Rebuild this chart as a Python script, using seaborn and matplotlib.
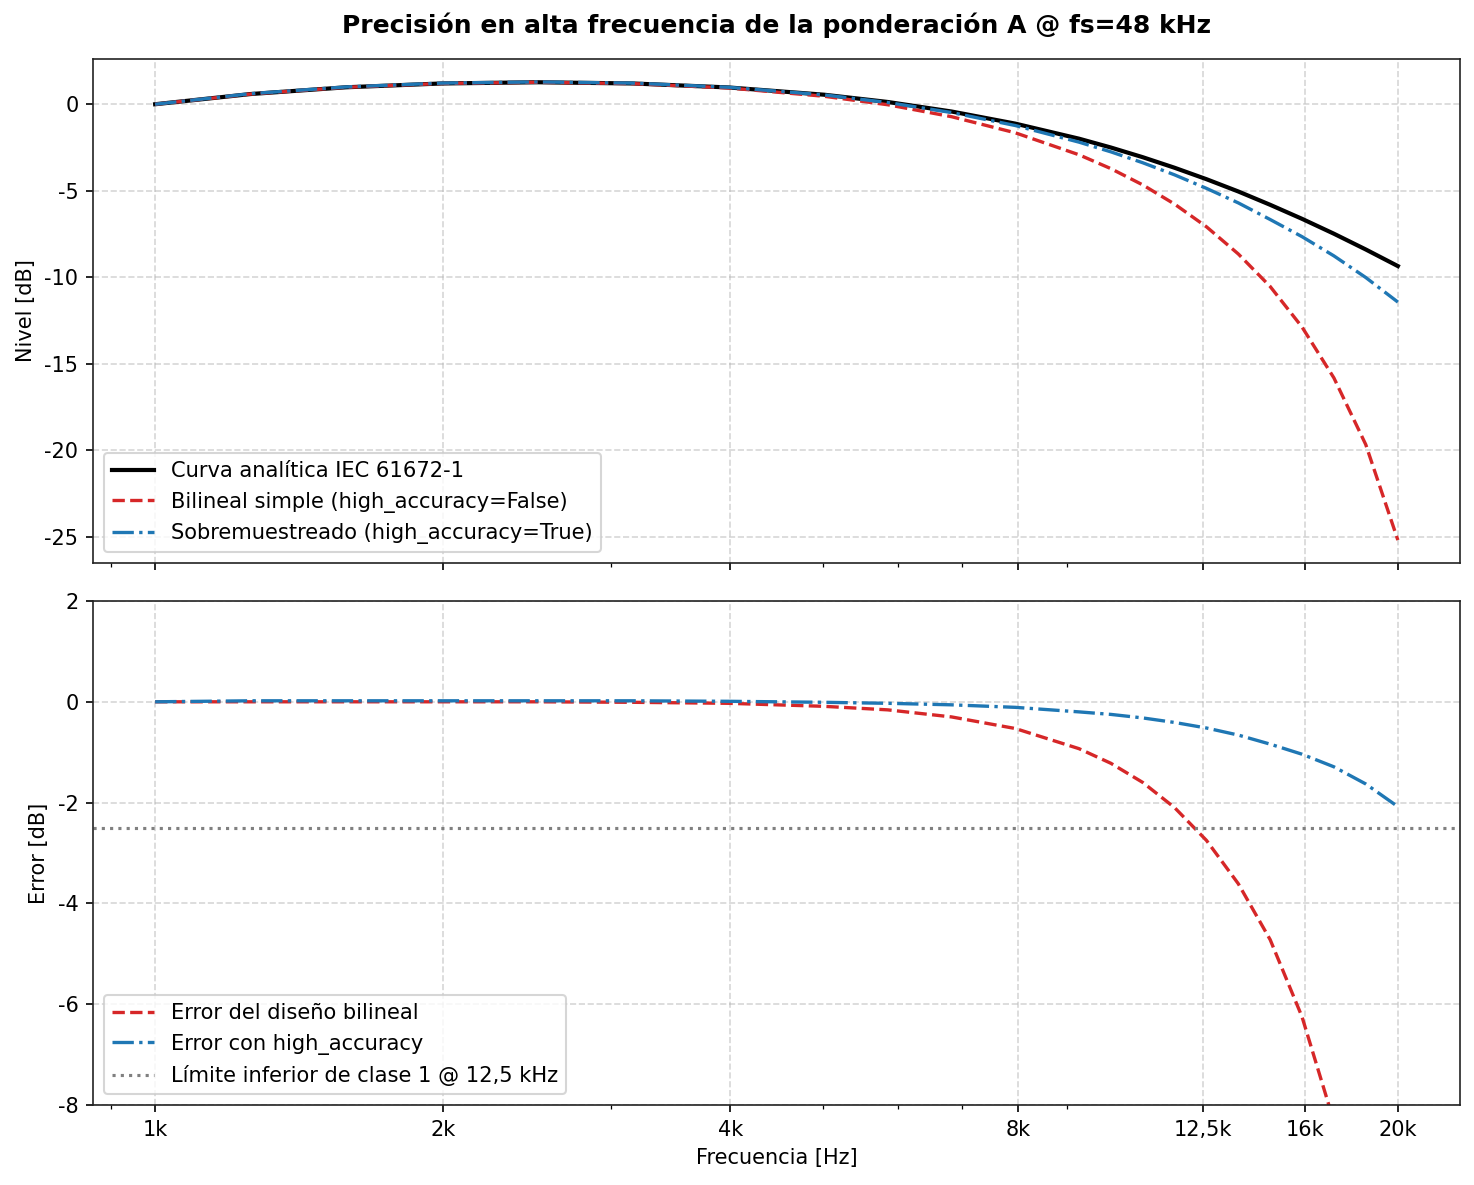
import matplotlib
matplotlib.use("Agg")
import matplotlib.pyplot as plt
from matplotlib.ticker import FixedLocator, FixedFormatter, NullFormatter
import seaborn as sns
import pandas as pd

# ---------------- data ----------------
freq_hz = [1000, 1259, 1585, 1996, 2513, 3164, 3984, 5017, 5849, 6820, 7953,
           9273, 10013, 10813, 11676, 12608, 13614, 14701, 15874, 17142, 18510, 20000]

level_analytic = [0.00, 0.59, 0.98, 1.20, 1.27, 1.20, 0.97, 0.55, 0.13, -0.42, -1.12,
                  -1.99, -2.50, -3.06, -3.67, -4.33, -5.04, -5.81, -6.62, -7.48, -8.39, -9.35]
level_bilinear = [0.00, 0.59, 0.98, 1.20, 1.27, 1.19, 0.94, 0.46, -0.03, -0.72, -1.65,
                  -2.92, -3.72, -4.66, -5.77, -7.08, -8.65, -10.53, -12.87, -15.81, -19.66, -25.18]
level_oversampled = [0.00, 0.61, 1.00, 1.22, 1.29, 1.22, 0.98, 0.54, 0.10, -0.48, -1.23,
                     -2.19, -2.75, -3.38, -4.08, -4.86, -5.70, -6.66, -7.65, -8.76, -10.01, -11.43]

error_bilinear = [0.00, 0.00, 0.00, 0.00, 0.00, -0.01, -0.03, -0.09, -0.16, -0.30, -0.53,
                  -0.93, -1.22, -1.60, -2.10, -2.75, -3.61, -4.72, -6.25, -8.33, -11.27, -15.83]
error_high_acc = [0.00, 0.02, 0.02, 0.02, 0.02, 0.02, 0.01, -0.01, -0.03, -0.06, -0.11,
                  -0.20, -0.25, -0.32, -0.41, -0.52, -0.66, -0.84, -1.04, -1.29, -1.63, -2.08]

class1_limit_db = -2.5

tick_freqs = [1000, 2000, 4000, 8000, 12500, 16000, 20000]
tick_labels = ["1k", "2k", "4k", "8k", "12,5k", "16k", "20k"]

title = "Precisión en alta frecuencia de la ponderación A @ fs=48 kHz"
labels_top = ["Curva analítica IEC 61672-1",
              "Bilineal simple (high_accuracy=False)",
              "Sobremuestreado (high_accuracy=True)"]
labels_bottom = ["Error del diseño bilineal",
                 "Error con high_accuracy",
                 "Límite inferior de clase 1 @ 12,5 kHz"]

df = pd.DataFrame({
    "f": freq_hz,
    "analytic": level_analytic,
    "bilinear": level_bilinear,
    "oversampled": level_oversampled,
    "err_bil": error_bilinear,
    "err_ha": error_high_acc,
})

# ---------------- style ----------------
plt.rcParams["font.family"] = ["DejaVu Sans"]
plt.rcParams["axes.unicode_minus"] = False
plt.rcParams["font.size"] = 10
plt.rcParams["legend.fontsize"] = 10.1

RED = "#d62728"
BLUE = "#1f77b4"

W, H, DPI = 1474, 1185, 150
fig = plt.figure(figsize=(W / DPI, H / DPI), dpi=DPI)
ax0 = fig.add_axes([93 / W, 1 - 563 / H, (1460 - 93) / W, (563 - 59) / H])
ax1 = fig.add_axes([93 / W, 1 - 1105 / H, (1460 - 93) / W, (1105 - 601) / H], sharex=ax0)

# ---------------- top panel ----------------
sns.lineplot(data=df, x="f", y="analytic", ax=ax0, color="black", lw=2.0,
             label=labels_top[0], sort=False)
sns.lineplot(data=df, x="f", y="bilinear", ax=ax0, color=RED, lw=1.6,
             linestyle="--", label=labels_top[1], sort=False)
sns.lineplot(data=df, x="f", y="oversampled", ax=ax0, color=BLUE, lw=1.6,
             linestyle="-.", label=labels_top[2], sort=False)

# ---------------- bottom panel ----------------
sns.lineplot(data=df, x="f", y="err_bil", ax=ax1, color=RED, lw=1.6,
             linestyle="--", label=labels_bottom[0], sort=False)
sns.lineplot(data=df, x="f", y="err_ha", ax=ax1, color=BLUE, lw=1.6,
             linestyle="-.", label=labels_bottom[1], sort=False)
ax1.axhline(class1_limit_db, color="0.5", lw=1.5, linestyle=":", label=labels_bottom[2])

for ax in (ax0, ax1):
    ax.set_xscale("log")
    ax.grid(True, which="major", linestyle="--", alpha=0.5)
    ax.xaxis.set_minor_formatter(NullFormatter())
    for s in ax.spines.values():
        s.set_color("#222222")

ax0.xaxis.set_major_locator(FixedLocator(tick_freqs))
ax0.xaxis.set_major_formatter(FixedFormatter(tick_labels))
ax0.tick_params(labelbottom=False)
ax0.set_xlabel("")
ax0.set_ylabel("Nivel [dB]")
ax0.set_yticks([0, -5, -10, -15, -20, -25])

ax1.set_ylim(-8, 2)
ax1.set_yticks([2, 0, -2, -4, -6, -8])
ax1.set_xlabel("Frecuencia [Hz]")
ax1.set_ylabel("Error [dB]")

ax0.legend(loc="lower left")
ax1.legend(loc="lower left")

ax0.set_title(title, fontsize=12, fontweight="bold", pad=12.5)

fig.savefig("out.png", dpi=DPI)
